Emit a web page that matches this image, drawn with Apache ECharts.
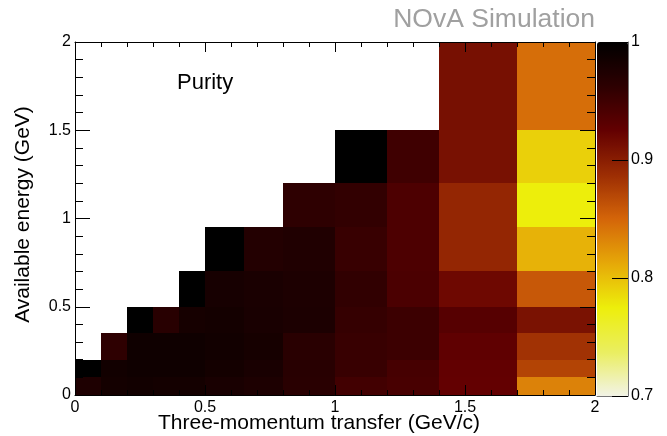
<!DOCTYPE html>
<html>
<head>
<meta charset="utf-8">
<script src="https://cdn.jsdelivr.net/npm/echarts@6/dist/echarts.min.js"></script>
<style>
html,body{margin:0;padding:0;background:#fff;}
#chart{width:667px;height:436px;}
</style>
</head>
<body>
<div id="chart"></div>
<script>
// Bin edges (variable width)
const xEdges = [0, 0.1, 0.2, 0.3, 0.4, 0.5, 0.65, 0.8, 1.0, 1.2, 1.4, 1.7, 2.0];
const yEdges = [0, 0.1, 0.2, 0.35, 0.5, 0.7, 0.95, 1.2, 1.5, 2.0];

// Purity per x-bin column, from the lowest energy bin upward (only filled bins)
const col_0_01   = [0.975, 1.0];
const col_01_02  = [0.983, 0.985, 0.962];
const col_02_03  = [0.985, 0.9875, 0.9875, 1.0];
const col_03_04  = [0.983, 0.9875, 0.9875, 0.967];
const col_04_05  = [0.983, 0.9875, 0.9875, 0.982, 1.0];
const col_05_065 = [0.979, 0.983, 0.985, 0.983, 0.981, 1.0];
const col_065_08 = [0.976, 0.979, 0.982, 0.979, 0.978, 0.971];
const col_08_10  = [0.966, 0.967, 0.966, 0.977, 0.976, 0.973, 0.962];
const col_10_12  = [0.948, 0.955, 0.955, 0.957, 0.960, 0.955, 0.959, 1.0];
const col_12_14  = [0.944, 0.945, 0.952, 0.952, 0.942, 0.940, 0.940, 0.950];
const col_14_17  = [0.925, 0.926, 0.928, 0.934, 0.918, 0.893, 0.893, 0.911, 0.912];
const col_17_20  = [0.834, 0.872, 0.884, 0.910, 0.859, 0.807, 0.775, 0.791, 0.845];
const columns = [col_0_01, col_01_02, col_02_03, col_03_04, col_04_05, col_05_065,
                 col_065_08, col_08_10, col_10_12, col_12_14, col_14_17, col_17_20];

const xTickLabels = ['0', '0.5', '1', '1.5', '2'];
const yTickLabels = ['0', '0.5', '1', '1.5', '2'];
const zTickLabels = ['0.7', '0.8', '0.9', '1'];

// palette (ROOT dark body radiator, inverted: low=light, high=black)
const palette = ['rgb(242,243,230)','rgb(234,238,95)','rgb(237,238,11)','rgb(230,168,8)',
                 'rgb(212,101,9)','rgb(156,45,3)','rgb(99,0,1)','rgb(45,0,1)','rgb(0,0,0)'];

const cells = [];
columns.forEach(function(col, i){
  col.forEach(function(v, j){
    cells.push([xEdges[i], xEdges[i+1], yEdges[j], yEdges[j+1], v]);
  });
});

const FONT = 'Liberation Sans, Arial, Helvetica, sans-serif';
const chart = echarts.init(document.getElementById('chart'), null, {renderer:'canvas'});

function tickFmt(labels){
  return function(val){
    const s = String(Math.round(val*10)/10);
    return labels.indexOf(s) >= 0 ? s : '';
  };
}

const tickStyle = {color:'#000', width:1};
const option = {
  animation:false,
  backgroundColor:'#fff',
  title:{
    text:'NOvA Simulation', right:72, top:6, padding:0,
    textStyle:{color:'#a0a0a0', fontSize:26.5, fontWeight:'normal', fontFamily:FONT}
  },
  graphic:[{
    type:'text', left:177, top:72, z:20,
    style:{text:'Purity', fontSize:22, fill:'#000', fontFamily:FONT}
  }],
  grid:[
    {left:75, right:72, top:42, bottom:41, show:false, containLabel:false, outerBoundsMode:'none'},
    {left:597, top:42, width:31, height:354, show:false, containLabel:false, outerBoundsMode:'none'}
  ],
  xAxis:[
    {gridIndex:0, type:'value', min:0, max:2, interval:0.5, position:'bottom', z:10,
     name:'Three-momentum transfer (GeV/c)', nameLocation:'middle', nameGap:18, nameMoveOverlap:false,
     nameTextStyle:{fontSize:21, color:'#000', fontFamily:FONT, padding:[0,32,0,0]},
     axisLine:{show:true, onZero:false, lineStyle:{color:'#000', width:1}},
     axisTick:{show:true, inside:true, length:10, lineStyle:tickStyle},
     minorTick:{show:true, splitNumber:5, length:5, lineStyle:tickStyle},
     splitLine:{show:false},
     axisLabel:{fontSize:16, color:'#000', margin:5, fontFamily:FONT, formatter:tickFmt(xTickLabels)}},
    {gridIndex:0, type:'value', min:0, max:2, interval:0.5, position:'top', z:10,
     axisLine:{show:true, onZero:false, lineStyle:{color:'#000', width:1}},
     axisTick:{show:true, inside:true, length:10, lineStyle:tickStyle},
     minorTick:{show:true, splitNumber:5, length:5, lineStyle:tickStyle},
     splitLine:{show:false}, axisLabel:{show:false}},
    {gridIndex:1, type:'value', min:0, max:1, show:true, z:10,
     axisLine:{show:true, onZero:false, lineStyle:{color:'#777', width:1}},
     axisTick:{show:false}, axisLabel:{show:false}, splitLine:{show:false}}
  ],
  yAxis:[
    {gridIndex:0, type:'value', min:0, max:2, interval:0.5, position:'left', z:10,
     name:'Available energy (GeV)', nameLocation:'middle', nameGap:41, nameMoveOverlap:false,
     nameTextStyle:{fontSize:21, color:'#000', fontFamily:FONT, padding:[0,0,0,8]},
     axisLine:{show:true, onZero:false, lineStyle:{color:'#000', width:1}},
     axisTick:{show:true, inside:true, length:15, lineStyle:tickStyle},
     minorTick:{show:true, splitNumber:5, length:8, lineStyle:tickStyle},
     splitLine:{show:false},
     axisLabel:{fontSize:16, color:'#000', margin:4, fontFamily:FONT, formatter:tickFmt(yTickLabels)}},
    {gridIndex:0, type:'value', min:0, max:2, interval:0.5, position:'right', z:10,
     axisLine:{show:true, onZero:false, lineStyle:{color:'#000', width:1}},
     axisTick:{show:true, inside:true, length:15, lineStyle:tickStyle},
     minorTick:{show:true, splitNumber:5, length:8, lineStyle:tickStyle},
     splitLine:{show:false}, axisLabel:{show:false}},
    {gridIndex:1, type:'value', min:0.7, max:1, interval:0.1, position:'right', z:10,
     axisLine:{show:true, onZero:false, lineStyle:{color:'#777', width:1}},
     axisTick:{show:true, inside:true, length:16, lineStyle:{color:'#000', width:1}},
     splitLine:{show:false},
     axisLabel:{fontSize:16, color:'#000', margin:3, fontFamily:FONT, formatter:tickFmt(zTickLabels)}}
  ],
  visualMap:{
    type:'continuous', min:0.7, max:1, dimension:4, seriesIndex:0,
    orient:'vertical', left:597, top:42, itemWidth:31, itemHeight:354,
    padding:0, calculable:false, hoverLink:false, text:null, showLabel:false,
    inRange:{color:palette}
  },
  series:[
    {type:'custom', xAxisIndex:0, yAxisIndex:0, z:2,
     encode:{x:[0,1], y:[2,3]},
     data:cells,
     renderItem:function(params, api){
       const p0 = api.coord([api.value(0), api.value(3)]);
       const p1 = api.coord([api.value(1), api.value(2)]);
       const x0 = Math.round(p0[0]), y0 = Math.round(p0[1]);
       const x1 = Math.round(p1[0]), y1 = Math.round(p1[1]);
       return {type:'rect', shape:{x:x0, y:y0, width:x1-x0, height:y1-y0},
               style:{fill:api.visual('color')}};
     }},
    {type:'custom', xAxisIndex:2, yAxisIndex:2, data:[], renderItem:function(){return null;}}
  ]
};
chart.setOption(option);
</script>
</body>
</html>
